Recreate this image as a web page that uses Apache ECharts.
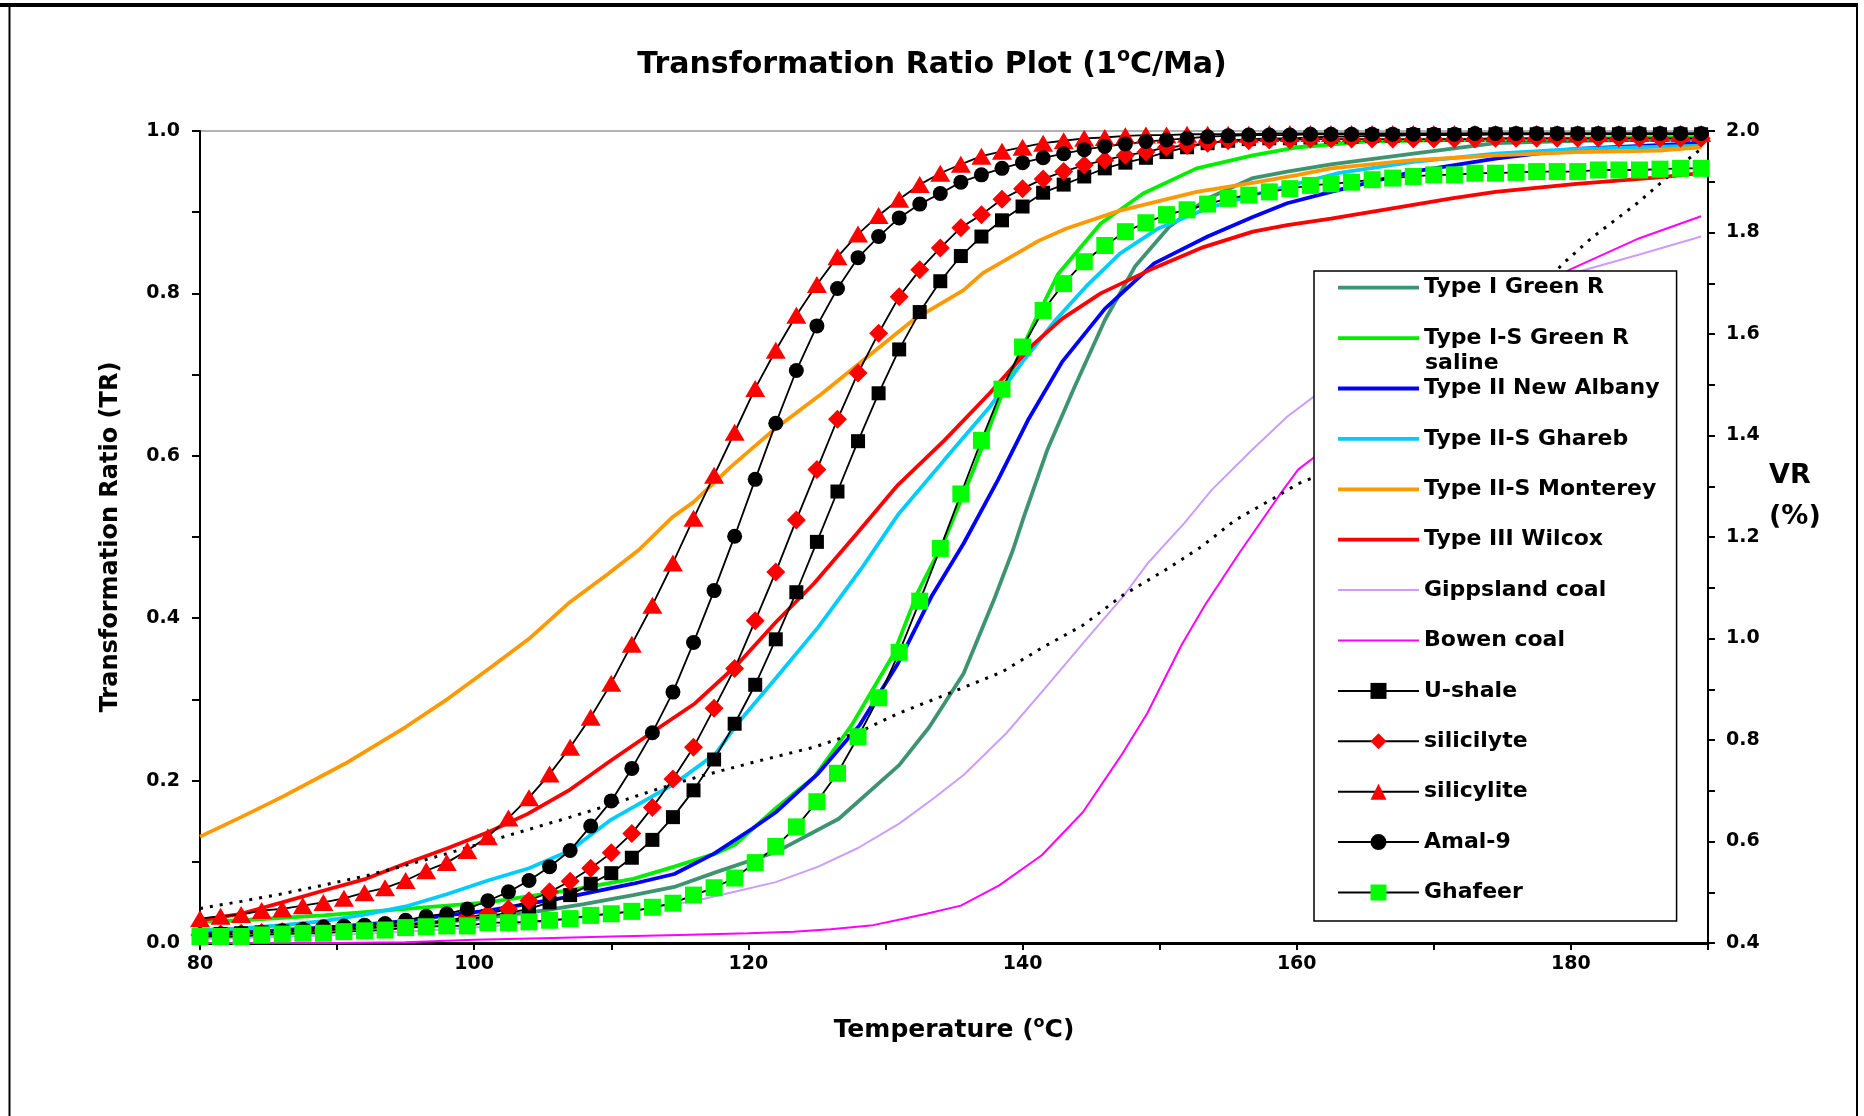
<!DOCTYPE html>
<html>
<head>
<meta charset="utf-8">
<title>Transformation Ratio Plot</title>
<script src="https://cdn.jsdelivr.net/npm/echarts/dist/echarts.min.js"></script>
<style>
  html, body { margin: 0; padding: 0; background: #fff; }
  #chart { width: 1864px; height: 1116px; }
</style>
</head>
<body>
<div id="chart"></div>
<script>
// temperatures of the sampled kerogen points (every 1.5 degC)
var markerTemps = [80, 81.5, 83, 84.5, 86, 87.5, 89, 90.5, 92, 93.5,
  95, 96.5, 98, 99.5, 101, 102.5, 104, 105.5, 107, 108.5,
  110, 111.5, 113, 114.5, 116, 117.5, 119, 120.5, 122, 123.5,
  125, 126.5, 128, 129.5, 131, 132.5, 134, 135.5, 137, 138.5,
  140, 141.5, 143, 144.5, 146, 147.5, 149, 150.5, 152, 153.5,
  155, 156.5, 158, 159.5, 161, 162.5, 164, 165.5, 167, 168.5,
  170, 171.5, 173, 174.5, 176, 177.5, 179, 180.5, 182, 183.5,
  185, 186.5, 188, 189.5]

var uShale = [.010, .011, .012, .013, .014, .015, .016, .017, .018, .020,
  .022, .024, .026, .029, .033, .037, .042, .050, .059, .073,
  .086, .105, .127, .155, .188, .226, .270, .318, .374, .432,
  .494, .556, .618, .677, .731, .777, .815, .846, .870, .890,
  .907, .924, .934, .944, .954, .961, .967, .974, .980, .985,
  .988, .990, .991, .991, .992, .993, .993, .994, .994, .995,
  .995, .995, .995, .996, .996, .996, .996, .996, .996, .996,
  .996, .996, .996, .996]

var silicilyte = [.010, .011, .012, .013, .014, .015, .016, .018, .019, .021,
  .023, .025, .028, .032, .036, .042, .052, .063, .076, .092,
  .111, .135, .167, .202, .241, .289, .338, .397, .457, .521,
  .583, .645, .702, .751, .796, .829, .856, .881, .897, .916,
  .929, .941, .950, .958, .964, .970, .974, .980, .982, .985,
  .988, .988, .989, .989, .990, .990, .990, .990, .990, .990,
  .990, .990, .990, .991, .991, .991, .991, .991, .991, .991,
  .991, .991, .991, .991]

var silicylite = [.030, .033, .035, .040, .042, .046, .050, .055, .062, .068,
  .077, .089, .099, .114, .131, .154, .179, .208, .241, .278,
  .320, .368, .416, .468, .523, .576, .629, .683, .730, .773,
  .811, .845, .873, .896, .916, .934, .948, .959, .969, .975,
  .980, .985, .988, .991, .992, .994, .995, .995, .996, .996,
  .996, .996, .997, .997, .997, .997, .997, .997, .997, .997,
  .997, .997, .997, .997, .997, .997, .997, .997, .997, .997,
  .997, .997, .997, .997]

var amal9 = [.010, .011, .012, .013, .015, .017, .020, .021, .022, .024,
  .028, .033, .036, .042, .052, .063, .077, .094, .114, .144,
  .175, .215, .259, .309, .370, .434, .501, .571, .640, .705,
  .760, .806, .844, .870, .893, .910, .923, .937, .946, .954,
  .961, .967, .972, .977, .981, .984, .987, .989, .991, .993,
  .994, .995, .995, .995, .996, .996, .996, .996, .996, .996,
  .996, .996, .997, .997, .997, .997, .997, .997, .997, .997,
  .997, .997, .997, .997]

var ghafeer = [.008, .008, .008, .010, .011, .012, .012, .014, .015, .016,
  .019, .020, .021, .021, .025, .025, .026, .028, .030, .034,
  .036, .039, .044, .049, .059, .068, .080, .099, .119, .143,
  .174, .209, .254, .302, .358, .421, .486, .553, .619, .682,
  .734, .779, .812, .839, .859, .876, .887, .897, .903, .910,
  .917, .921, .925, .929, .933, .935, .937, .940, .942, .944,
  .946, .946, .948, .948, .949, .950, .950, .950, .952, .952,
  .952, .953, .954, .954]

// kinetic model curves, [temperature, TR]
var typeIGreenR = [[80, .010], [85, .013], [90, .017], [95, .022], [100, .029], [105, .040], [108, .048],
  [111.6, .059], [114.6, .069], [117.6, .087], [122, .112], [126.6, .153], [131, .219], [133.2, .266],
  [135.7, .332], [137.9, .422], [139.3, .484], [140.1, .525], [141.8, .607], [143.8, .685], [146, .767],
  [148.2, .833], [150.7, .882], [153.5, .917], [156.8, .942], [159.3, .950], [162.5, .959], [168.5, .972],
  [174.5, .985], [180.4, .988], [189.5, .990]]

var typeISGreenR = [[80, .026], [83, .028], [89, .034], [95, .042], [101, .050], [107, .065], [111.6, .079],
  [114.6, .094], [117.6, .110], [119.1, .122], [122, .166], [124.8, .204], [127.6, .270], [130.6, .356],
  [132.3, .430], [134.3, .496], [136.5, .586], [138.7, .685], [140.7, .759], [142.6, .824], [145.7, .886],
  [148.8, .923], [152.7, .954], [156.8, .970], [160.1, .980], [165, .987], [175, .990], [189.5, .992]]

var newAlbany = [[80, .012], [85, .015], [90, .020], [95, .027], [98, .034], [101, .040], [107, .057],
  [111.6, .073], [114.6, .085], [117.5, .110], [120.3, .141], [122, .161], [125.1, .209], [128.1, .268],
  [130.9, .344], [133.4, .428], [135.7, .492], [138.2, .570], [140.4, .644], [142.9, .716], [146, .781],
  [149.6, .837], [153.5, .870], [156.8, .894], [159.3, .911], [162.5, .925], [168.5, .950], [174.5, .966],
  [180.4, .978], [189.5, .985]]

var ghareb = [[80, .016], [83, .018], [86, .022], [89, .027], [92, .035], [95, .045], [98, .060], [101, .077],
  [104, .092], [107, .114], [110, .152], [114.6, .196], [117.6, .233], [119.2, .270], [122, .326], [125.1, .389],
  [128.2, .460], [130.9, .527], [134.3, .595], [137.6, .660], [140.1, .718], [142.4, .767], [144.6, .808],
  [147.1, .849], [149.9, .880], [153.5, .905], [157, .922], [160, .935], [163, .948], [168.5, .962],
  [174.5, .972], [180.4, .978], [189.5, .982]]

var monterey = [[80, .131], [83, .155], [86, .180], [90.6, .221], [95, .266], [98.1, .301], [101.1, .338],
  [104.1, .376], [107, .420], [109.8, .455], [112, .484], [114.5, .525], [116, .543], [118.7, .586],
  [120.4, .611], [122, .634], [125.4, .677], [128.4, .718], [132, .767], [135.7, .804], [137.1, .825],
  [141.2, .865], [143.2, .880], [147.1, .902], [152.7, .925], [157.1, .937], [160.1, .946], [162.5, .954],
  [168.5, .964], [174.5, .970], [180.4, .974], [186.4, .976], [189.5, .980]]

var wilcox = [[80, .028], [83, .036], [86, .050], [89.1, .065], [92.1, .079], [95, .098], [98.1, .117],
  [101.1, .137], [103.9, .159], [107, .189], [110, .225], [113.2, .262], [116.1, .295], [119.2, .343],
  [122, .395], [124.8, .443], [127.9, .504], [130.9, .564], [134.3, .619], [137.6, .677], [140.7, .736],
  [142.9, .769], [145.7, .800], [149.3, .829], [153.2, .857], [156.8, .876], [159.3, .884], [162.5, .892],
  [168.5, .909], [171.3, .917], [174.5, .925], [180.4, .935], [186.4, .943], [189.5, .948]]

var gippsland = [[80, .005], [85, .007], [90, .010], [95, .014], [100, .019], [105, .026], [110, .036],
  [113, .043], [116.4, .053], [119, .063], [122, .075], [125.1, .094], [128, .117], [131, .147],
  [133.5, .178], [135.7, .207], [138.8, .258], [141.6, .313], [144.4, .369], [147.3, .426], [149.1, .467],
  [151.8, .517], [153.8, .558], [156.6, .605], [159.3, .648], [161.8, .680], [165, .712], [170, .757],
  [175, .795], [180.6, .827], [185, .848], [189.5, .870]]

var bowen = [[80, .000], [90, .000], [95, .001], [100, .004], [105, .006], [110, .008], [115, .010],
  [120, .012], [123.3, .014], [126, .017], [129.1, .022], [130.8, .028], [133, .036], [135.5, .046],
  [138.3, .071], [141.4, .108], [144.4, .161], [147.2, .231], [149.1, .283], [151.6, .367], [153.3, .416],
  [155.8, .480], [158.8, .553], [160.1, .583], [161.8, .605], [165, .650], [170, .720], [175, .782],
  [180, .830], [185, .868], [189.5, .895]]

// vitrinite reflectance, right axis [temperature, VR %]
var vrCurve = [[80, .468], [83, .482], [86, .497], [89, .514], [92.2, .533], [95, .553], [98, .576],
  [101, .600], [104, .624], [107, .648], [110, .673], [113.1, .701], [116.4, .728], [120.5, .757],
  [124.8, .786], [128.1, .816], [130.9, .852], [134, .885], [138.5, .934], [141.5, .983], [144.4, 1.026],
  [147.3, 1.085], [150.6, 1.138], [153, 1.180], [155.5, 1.233], [158.3, 1.276], [160.1, 1.305],
  [162.2, 1.328], [165, 1.380], [170, 1.490], [175, 1.610], [179.4, 1.738], [181.5, 1.789],
  [184.9, 1.859], [188.4, 1.941], [189.5, 1.965]]

var FONT = "'DejaVu Sans', sans-serif"
// legend line swatches (thin band inside a 81x20 box)
var thickIcon = 'path://M0,0h0.01v0.01h-0.01zM0,8.1h81v3.8h-81zM80.99,19.99h0.01v0.01h-0.01z'
var thinIcon = 'path://M0,0h0.01v0.01h-0.01zM0,9h81v2h-81zM80.99,19.99h0.01v0.01h-0.01z'

function lineSeries(name, data, color, width) {
  return {
    name: name, type: 'line', data: data, symbol: 'none',
    color: color,
    lineStyle: { color: color, width: width },
    z: 2
  }
}

function markerSeries(name, values, symbol, size, fill) {
  return {
    name: name, type: 'line',
    data: markerTemps.map(function(t, i) { return [t, values[i]] }),
    symbol: symbol, symbolSize: size, showSymbol: true,
    itemStyle: { color: fill },
    lineStyle: { color: '#000', width: 1.8 },
    z: 3
  }
}

function oddTenth(v) {
  return Math.round(v * 10) % 2 !== 0
}

var chart = echarts.init(document.getElementById('chart'))

chart.setOption({
  animation: false,
  backgroundColor: '#fff',
  title: {
    text: '{a|Transformation Ratio Plot (1}{s|o}{a|C/Ma)}',
    left: 'center',
    top: 42,
    textStyle: {
      rich: {
        a: { fontFamily: FONT, fontWeight: 'bold', fontSize: 30, lineHeight: 36, color: '#000' },
        s: { fontFamily: FONT, fontWeight: 'bold', fontSize: 19, lineHeight: 19, verticalAlign: 'top', color: '#000' }
      }
    }
  },
  graphic: [
    { type: 'line', shape: { x1: 0, y1: 5, x2: 1858, y2: 5 }, style: { stroke: '#000', lineWidth: 4 } },
    { type: 'line', shape: { x1: 9.5, y1: 5, x2: 9.5, y2: 1116 }, style: { stroke: '#000', lineWidth: 2 } },
    { type: 'line', shape: { x1: 1857, y1: 5, x2: 1857, y2: 1116 }, style: { stroke: '#000', lineWidth: 2 } },
    // second line of the wrapped legend label
    {
      type: 'text', left: 1425, top: 352, z: 100,
      style: { text: 'saline', fontFamily: FONT, fontWeight: 'bold', fontSize: 22, fill: '#000' }
    }
  ],
  grid: {
    left: 200, right: 156, top: 131, bottom: 173,
    show: true, borderColor: '#999', borderWidth: 1.5, backgroundColor: 'transparent'
  },
  legend: {
    orient: 'vertical',
    left: 1314, top: 271,
    itemWidth: 81, itemHeight: 20, itemGap: 24.4,
    padding: [3.7, 17, 15.5, 23],
    backgroundColor: '#fff', borderColor: '#000', borderWidth: 1.5,
    selectedMode: false,
    itemStyle: { borderWidth: 0 },
    textStyle: { fontFamily: FONT, fontWeight: 'bold', fontSize: 22, color: '#000', lineHeight: 26 },
    formatter: function(name) {
      return name === 'Type I-S Green R saline' ? 'Type I-S Green R' : name
    },
    data: [
      { name: 'Type I Green R', icon: thickIcon },
      { name: 'Type I-S Green R saline', icon: thickIcon },
      { name: 'Type II New Albany', icon: thickIcon },
      { name: 'Type II-S Ghareb', icon: thickIcon },
      { name: 'Type II-S Monterey', icon: thickIcon },
      { name: 'Type III Wilcox', icon: thickIcon },
      { name: 'Gippsland coal', icon: thinIcon },
      { name: 'Bowen coal', icon: thinIcon },
      { name: 'U-shale' },
      { name: 'silicilyte' },
      { name: 'silicylite' },
      { name: 'Amal-9' },
      { name: 'Ghafeer' }
    ]
  },
  xAxis: {
    type: 'value', min: 80, max: 190, interval: 10,
    name: '{a|Temperature (}{s|o}{a|C)}',
    nameLocation: 'middle', nameGap: 72,
    nameTextStyle: {
      rich: {
        a: { fontFamily: FONT, fontWeight: 'bold', fontSize: 25, lineHeight: 30, color: '#000' },
        s: { fontFamily: FONT, fontWeight: 'bold', fontSize: 16, lineHeight: 16, verticalAlign: 'top', color: '#000' }
      }
    },
    axisLine: { show: true, onZero: false, lineStyle: { color: '#000', width: 3 } },
    axisTick: { show: true, length: 7, lineStyle: { color: '#000', width: 2 } },
    axisLabel: {
      margin: 12, fontFamily: FONT, fontWeight: 'bold', fontSize: 19, color: '#000',
      formatter: function(v) { return v % 20 === 0 ? String(v) : '' }
    },
    splitLine: { show: false }
  },
  yAxis: [
    {
      type: 'value', min: 0, max: 1, interval: 0.1, position: 'left',
      name: 'Transformation Ratio (TR)',
      nameLocation: 'middle', nameGap: 75,
      nameTextStyle: { fontFamily: FONT, fontWeight: 'bold', fontSize: 24, lineHeight: 28, color: '#000' },
      axisLine: { show: true, lineStyle: { color: '#000', width: 2 } },
      axisTick: { show: true, length: 8, lineStyle: { color: '#000', width: 2 } },
      axisLabel: {
        margin: 20, fontFamily: FONT, fontWeight: 'bold', fontSize: 19, color: '#000',
        formatter: function(v) { return oddTenth(v) ? '' : v.toFixed(1) }
      },
      splitLine: { show: false }
    },
    {
      type: 'value', min: 0.4, max: 2.0, interval: 0.1, position: 'right',
      // two empty lines lift the label above the axis middle
      name: 'VR\n(%)\n\n',
      nameLocation: 'middle', nameGap: 61, nameRotate: 0,
      nameTextStyle: { fontFamily: FONT, fontWeight: 'bold', fontSize: 27, lineHeight: 41, color: '#000' },
      axisLine: { show: true, lineStyle: { color: '#000', width: 2 } },
      axisTick: { show: true, length: 7, lineStyle: { color: '#000', width: 2 } },
      axisLabel: {
        margin: 18, fontFamily: FONT, fontWeight: 'bold', fontSize: 19, color: '#000',
        formatter: function(v) { return oddTenth(v) ? '' : v.toFixed(1) }
      },
      splitLine: { show: false }
    }
  ],
  series: [
    lineSeries('Type I Green R', typeIGreenR, '#3d9470', 3.8),
    lineSeries('Type I-S Green R saline', typeISGreenR, '#00ee00', 3.8),
    lineSeries('Type II New Albany', newAlbany, '#0000ff', 3.8),
    lineSeries('Type II-S Ghareb', ghareb, '#00ccff', 3.8),
    lineSeries('Type II-S Monterey', monterey, '#ff9900', 3.8),
    lineSeries('Type III Wilcox', wilcox, '#ff0000', 3.8),
    lineSeries('Gippsland coal', gippsland, '#cc9dff', 2),
    lineSeries('Bowen coal', bowen, '#ff00ff', 2),
    {
      name: 'VR', type: 'line', yAxisIndex: 1, data: vrCurve, symbol: 'none',
      lineStyle: { color: '#000', width: 3, type: [3, 7] },
      z: 2
    },
    markerSeries('U-shale', uShale, 'rect', 14, '#000'),
    markerSeries('silicilyte', silicilyte, 'diamond', 19, '#ff0000'),
    markerSeries('silicylite', silicylite, 'triangle', [20, 17], '#ff0000'),
    markerSeries('Amal-9', amal9, 'circle', 15, '#000'),
    markerSeries('Ghafeer', ghafeer, 'rect', 17, '#00ff00')
  ]
})
</script>
</body>
</html>
